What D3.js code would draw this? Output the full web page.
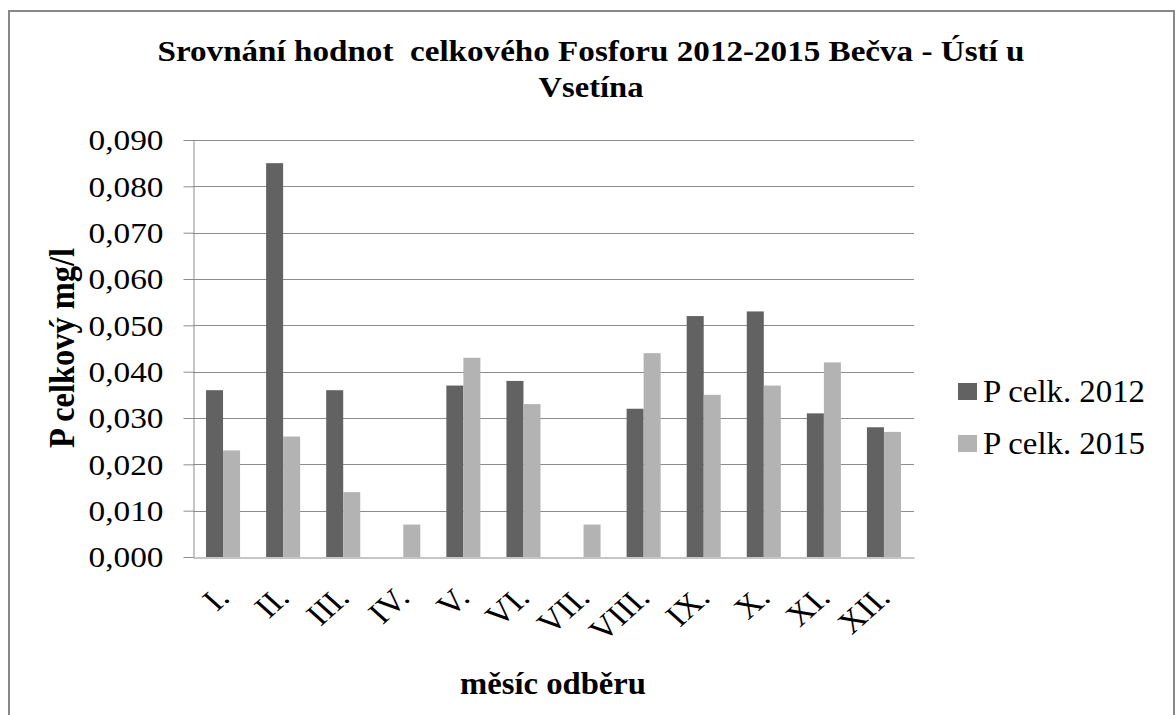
<!DOCTYPE html>
<html>
<head>
<meta charset="utf-8">
<script src="https://cdn.jsdelivr.net/npm/d3@7"></script>
<style>
  html, body { margin: 0; padding: 0; background: #fff; }
  svg { display: block; }
  svg text { font-family: "Liberation Serif", "Times New Roman", Times, serif !important; fill: #000; }
</style>
</head>
<body>
<svg id="chart" width="1175" height="715"></svg>
<script>
const titleLines = ["Srovnání hodnot  celkového Fosforu 2012-2015 Bečva - Ústí u", "Vsetína"];
const yAxisTitle = "P celkový mg/l";
const xAxisTitle = "měsíc odběru";
const months = ["I.", "II.", "III.", "IV.", "V.", "VI.", "VII.", "VIII.", "IX.", "X.", "XI.", "XII."];
const seriesNames = ["P celk. 2012", "P celk. 2015"];
const values2012 = [0.036, 0.085, 0.036, 0, 0.037, 0.038, 0, 0.032, 0.052, 0.053, 0.031, 0.028];
const values2015 = [0.023, 0.026, 0.014, 0.007, 0.043, 0.033, 0.007, 0.044, 0.035, 0.037, 0.042, 0.027];
const yTickValues = [0, 0.01, 0.02, 0.03, 0.04, 0.05, 0.06, 0.07, 0.08, 0.09];
const seriesColors = ["#626262", "#b3b3b3"];

const svg = d3.select("#chart");
const plot = { left: 193, right: 914, top: 140, bottom: 557 };
const gridColor = "#8c8c8c";

// frame
svg.append("path")
  .attr("d", "M9,730 V11 H1174 V730")
  .attr("fill", "none").attr("stroke", "#888").attr("stroke-width", 2);

const x0 = d3.scaleBand().domain(months).range([plot.left, plot.right])
  .paddingInner(0.4333).paddingOuter(0.21665);
const x1 = d3.scaleBand().domain(seriesNames).range([0, x0.bandwidth()]);
const y = d3.scaleLinear().domain([0, 0.09]).range([plot.bottom, plot.top]);

// gridlines
svg.append("g").selectAll("line").data(yTickValues.filter(d => d > 0)).join("line")
  .attr("x1", plot.left).attr("x2", plot.right)
  .attr("y1", d => Math.round(y(d)) + 0.5).attr("y2", d => Math.round(y(d)) + 0.5)
  .attr("stroke", gridColor).attr("stroke-width", 1);

// bars
const rows = months.map((m, i) => ({ month: m, vals: [values2012[i], values2015[i]] }));
const groups = svg.append("g").selectAll("g").data(rows).join("g")
  .attr("transform", d => `translate(${x0(d.month)},0)`);
groups.selectAll("rect")
  .data(d => d.vals.map((v, j) => ({ name: seriesNames[j], v, j })))
  .join("rect")
  .attr("x", d => x1(d.name))
  .attr("width", x1.bandwidth())
  .attr("y", d => y(d.v))
  .attr("height", d => y(0) - y(d.v))
  .attr("fill", d => seriesColors[d.j]);

// y axis
const fmt = d3.format(".3f");
const yAxis = d3.axisLeft(y).tickValues(yTickValues)
  .tickFormat(d => fmt(d).replace(".", ","))
  .tickSizeInner(10).tickSizeOuter(0).tickPadding(20);
const gy = svg.append("g").attr("transform", `translate(${plot.left + 0.5},0)`).call(yAxis);
gy.attr("font-family", null);
gy.select(".domain").attr("stroke", gridColor);
gy.selectAll(".tick line").attr("stroke", gridColor);
gy.selectAll(".tick text")
  .attr("font-size", 29).attr("fill", "#000")
  .attr("dy", "0.34em")
  .attr("textLength", 75).attr("lengthAdjust", "spacingAndGlyphs");

// x axis
const xAxis = d3.axisBottom(x0).tickSize(0).tickPadding(0);
const gx = svg.append("g").attr("transform", `translate(0,${plot.bottom + 0.5})`).call(xAxis);
gx.attr("font-family", null);
gx.select(".domain").attr("stroke", gridColor);
gx.selectAll(".tick text")
  .attr("font-size", 31).attr("fill", "#000")
  .attr("text-anchor", "end")
  .attr("y", 0).attr("dy", 0)
  .attr("transform", `translate(8,${599 - plot.bottom}) scale(1.12,1) rotate(-45)`);

// title
const title = svg.append("g").attr("font-weight", "bold");
title.append("text").attr("x", 591).attr("y", 61)
  .attr("text-anchor", "middle").attr("font-size", 30)
  .style("white-space", "pre")
  .attr("textLength", 867).attr("lengthAdjust", "spacingAndGlyphs")
  .text(titleLines[0]);
title.append("text").attr("x", 591).attr("y", 97)
  .attr("text-anchor", "middle").attr("font-size", 30)
  .attr("textLength", 105).attr("lengthAdjust", "spacingAndGlyphs")
  .text(titleLines[1]);

// y axis title
svg.append("text")
  .attr("transform", "translate(74,348) rotate(-90) scale(1,1.15)")
  .attr("text-anchor", "middle").attr("font-weight", "bold").attr("font-size", 31)
  .attr("textLength", 200).attr("lengthAdjust", "spacingAndGlyphs")
  .text(yAxisTitle);

// x axis title
svg.append("text").attr("x", 553).attr("y", 694)
  .attr("text-anchor", "middle").attr("font-weight", "bold").attr("font-size", 31)
  .attr("textLength", 186).attr("lengthAdjust", "spacingAndGlyphs")
  .text(xAxisTitle);

// legend
const legendY = d3.scalePoint().domain(seriesNames).range([400, 452]);
const lg = svg.append("g").selectAll("g").data(seriesNames).join("g")
  .attr("transform", d => `translate(958,${legendY(d)})`);
lg.append("rect").attr("x", 0).attr("y", -17).attr("width", 19).attr("height", 17)
  .attr("fill", (d, i) => seriesColors[i]);
lg.append("text").attr("x", 25).attr("y", 2)
  .attr("font-size", 32)
  .attr("textLength", 162).attr("lengthAdjust", "spacingAndGlyphs")
  .text(d => d);
</script>
</body>
</html>
